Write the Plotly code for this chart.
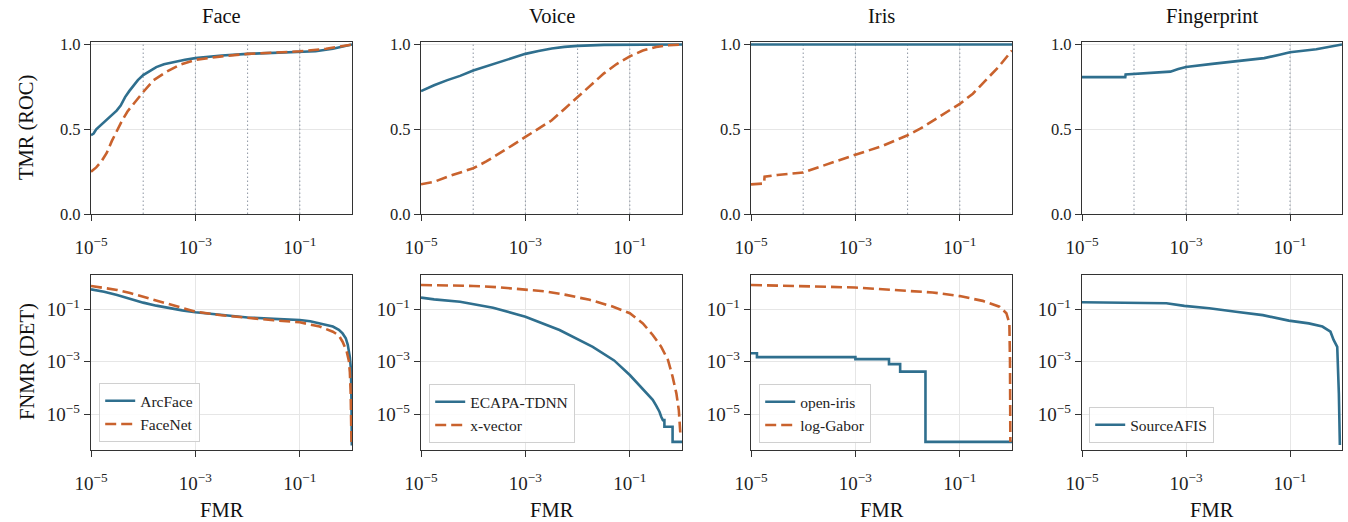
import plotly.graph_objects as go
from plotly.subplots import make_subplots

# ---------------- data ----------------
modalities = ["Face", "Voice", "Iris", "Fingerprint"]

# ROC curves (FMR -> TMR)
face_arc_roc_fmr = [1e-5, 1.12e-5, 1.26e-5, 1.48e-5, 1.78e-5, 2.0e-5, 2.5e-5, 3.1e-5, 3.7e-5, 4.5e-5,
                    5.4e-5, 6.5e-5, 7.9e-5, 1e-4, 1.35e-4, 1.78e-4, 2.5e-4, 3.7e-4, 6.3e-4, 1e-3,
                    3.2e-3, 1e-2, 3.2e-2, 0.1, 0.2, 0.43, 0.71, 1.0]
face_arc_roc_tmr = [0.465, 0.475, 0.50, 0.52, 0.545, 0.56, 0.585, 0.61, 0.64, 0.69,
                    0.725, 0.76, 0.79, 0.82, 0.847, 0.867, 0.884, 0.896, 0.91, 0.92,
                    0.935, 0.945, 0.95, 0.955, 0.96, 0.975, 0.988, 1.0]
face_fn_roc_fmr = [1e-5, 1.26e-5, 1.58e-5, 2.0e-5, 2.5e-5, 3.2e-5, 4.0e-5, 5.0e-5, 7.1e-5, 1e-4,
                   1.58e-4, 2.8e-4, 5e-4, 1e-3, 3.2e-3, 1e-2, 3.2e-2, 0.1, 0.32, 0.63, 1.0]
face_fn_roc_tmr = [0.25, 0.275, 0.31, 0.36, 0.43, 0.50, 0.555, 0.605, 0.665, 0.72,
                   0.79, 0.84, 0.88, 0.91, 0.93, 0.945, 0.952, 0.96, 0.975, 0.99, 1.0]

voice_ecapa_roc_fmr = [1e-5, 1.78e-5, 3.2e-5, 5.6e-5, 1e-4, 1.78e-4, 3.2e-4, 5.6e-4, 1e-3, 1.78e-3,
                       3.2e-3, 5.6e-3, 1e-2, 3.2e-2, 0.1, 1.0]
voice_ecapa_roc_tmr = [0.725, 0.76, 0.79, 0.815, 0.847, 0.872, 0.896, 0.92, 0.945, 0.962,
                       0.977, 0.986, 0.992, 0.998, 1.0, 1.0]
voice_xvec_roc_fmr = [1e-5, 1.78e-5, 3.2e-5, 5.6e-5, 1e-4, 1.78e-4, 3.2e-4, 5.6e-4, 1e-3, 1.78e-3,
                      3.2e-3, 5.6e-3, 1e-2, 1.78e-2, 3.2e-2, 5.6e-2, 0.1, 0.178, 0.32, 0.56, 1.0]
voice_xvec_roc_tmr = [0.175, 0.19, 0.22, 0.245, 0.27, 0.31, 0.357, 0.405, 0.455, 0.505,
                      0.553, 0.62, 0.69, 0.765, 0.83, 0.885, 0.93, 0.965, 0.985, 0.996, 1.0]

iris_open_roc_fmr = [1e-5, 1.0]
iris_open_roc_tmr = [1.0, 1.0]
iris_gabor_roc_fmr = [1e-5, 1.78e-5, 1.82e-5, 3.2e-5, 1e-4, 3.2e-4, 1e-3, 3.2e-3, 1e-2, 1.78e-2,
                      3.2e-2, 5.6e-2, 0.1, 0.178, 0.32, 0.56, 1.0]
iris_gabor_roc_tmr = [0.175, 0.18, 0.22, 0.23, 0.245, 0.30, 0.35, 0.40, 0.465, 0.505,
                      0.553, 0.60, 0.65, 0.71, 0.79, 0.87, 0.965]

finger_roc_fmr = [1e-5, 6.8e-5, 6.9e-5, 1e-4, 3.2e-4, 5e-4, 7.1e-4, 1e-3, 3.2e-3, 1e-2,
                  3.2e-2, 6.3e-2, 0.1, 0.32, 0.56, 1.0]
finger_roc_tmr = [0.808, 0.808, 0.824, 0.827, 0.835, 0.84, 0.855, 0.867, 0.886, 0.902,
                  0.92, 0.94, 0.955, 0.972, 0.985, 1.0]

# DET curves (FMR -> FNMR)
face_arc_det_fmr = [1e-5, 1.78e-5, 3.16e-5, 5.6e-5, 1e-4, 1.78e-4, 3.16e-4, 5.6e-4, 1e-3, 3.16e-3,
                    1e-2, 3.16e-2, 0.1, 0.158, 0.24, 0.316, 0.43, 0.56, 0.66, 0.76,
                    0.83, 0.91, 0.955, 0.977, 0.991]
face_arc_det_fnmr = [0.58, 0.47, 0.355, 0.25, 0.18, 0.138, 0.11, 0.091, 0.077, 0.06,
                     0.049, 0.043, 0.039, 0.035, 0.029, 0.026, 0.022, 0.0166, 0.012, 0.0079,
                     0.0044, 0.0015, 5e-4, 3.2e-5, 6.3e-7]
face_fn_det_fmr = [1e-5, 1.78e-5, 3.16e-5, 5.6e-5, 1e-4, 1.78e-4, 3.16e-4, 5.6e-4, 1e-3, 3.16e-3,
                   1e-2, 3.16e-2, 0.1, 0.24, 0.43, 0.56, 0.66, 0.79, 0.87, 0.91,
                   0.944, 0.966, 0.977]
face_fn_det_fnmr = [0.78, 0.66, 0.55, 0.42, 0.30, 0.21, 0.148, 0.107, 0.081, 0.059,
                    0.046, 0.038, 0.032, 0.022, 0.014, 0.01, 0.0058, 0.0025, 0.0011, 4e-4,
                    6.3e-5, 6.3e-6, 8.7e-7]

voice_ecapa_det_fmr = [1e-5, 1.78e-5, 5.6e-5, 2.4e-4, 1e-3, 4.5e-3, 1.95e-2, 5e-2, 0.1, 0.13,
                       0.178, 0.22, 0.275, 0.32, 0.37, 0.40, 0.43, 0.46, 0.46, 0.66,
                       0.66, 1.0]
voice_ecapa_det_fnmr = [0.28, 0.24, 0.195, 0.115, 0.052, 0.0162, 0.0037, 0.00112, 3.1e-4, 1.78e-4,
                        9.5e-5, 5.6e-5, 3.5e-5, 2.1e-5, 1.23e-5, 7.9e-6, 5.9e-6, 5.9e-6, 3.3e-6, 3.3e-6,
                        8.7e-7, 8.7e-7]
voice_xvec_det_fmr = [1e-5, 1e-4, 3.2e-4, 9.8e-4, 2.5e-3, 6e-3, 1.7e-2, 4.8e-2, 0.1, 0.178,
                      0.275, 0.4, 0.54, 0.66, 0.78, 0.87, 0.91, 0.93]
voice_xvec_det_fnmr = [0.85, 0.78, 0.69, 0.575, 0.48, 0.355, 0.23, 0.126, 0.071, 0.029,
                       0.0105, 0.0037, 0.00115, 2.7e-4, 6.2e-5, 1.4e-5, 3.3e-6, 1.8e-6]

iris_open_det_fmr = [1e-5, 1.3e-5, 1.3e-5, 1e-3, 1e-3, 4.4e-3, 4.4e-3, 7.2e-3, 7.2e-3, 2.2e-2, 2.2e-2, 1.0]
iris_open_det_fnmr = [0.0021, 0.0021, 0.0015, 0.0015, 0.00126, 0.00126, 8.1e-4, 8.1e-4, 4.2e-4, 4.2e-4,
                      8.7e-7, 8.7e-7]
iris_gabor_det_fmr = [1e-5, 1e-4, 9.8e-4, 9.3e-3, 3e-2, 0.1, 0.275, 0.575, 0.78, 0.89, 0.915, 0.93]
iris_gabor_det_fnmr = [0.85, 0.78, 0.68, 0.51, 0.44, 0.32, 0.21, 0.126, 0.071, 0.03, 0.00115, 8.7e-7]

finger_det_fmr = [1e-5, 6.8e-5, 4.2e-4, 9.3e-4, 2.8e-3, 9.1e-3, 3e-2, 9.5e-2, 0.23, 0.42,
                  0.6, 0.69, 0.81, 0.87, 0.91]
finger_det_fnmr = [0.186, 0.18, 0.17, 0.135, 0.11, 0.081, 0.06, 0.037, 0.029, 0.022,
                   0.014, 0.0068, 0.0037, 6.2e-5, 6.6e-7]

# reference lines drawn on the ROC panels
roc_ref_fmr = [1e-4, 1e-3, 1e-2, 1e-1]

x_tick_vals = [1e-5, 1e-3, 1e-1]
x_tick_text = ["10<sup>−5</sup>", "10<sup>−3</sup>", "10<sup>−1</sup>"]
roc_tick_vals = [0.0, 0.5, 1.0]
roc_tick_text = ["0.0", "0.5", "1.0"]
det_tick_vals = [1e-1, 1e-3, 1e-5]
det_tick_text = ["10<sup>−1</sup>", "10<sup>−3</sup>", "10<sup>−5</sup>"]

# ---------------- styling ----------------
BLUE = "#2f6f8e"
ORANGE = "#c9622d"
DASH = "11px,5px"
FONT = "Liberation Serif"
W, H = 1348, 522
col_px = [(91, 352), (421, 682), (751, 1012), (1082, 1342)]
row_px = [(42, 214), (275, 450)]
legend_pos = [(99, 442), (429, 443), (759, 443), (1089, 443)]

fig = make_subplots(rows=2, cols=4)

panels = [
    # (roc series, det series); each series: (name, fmr, value, colour, dash)
    ([("ArcFace", face_arc_roc_fmr, face_arc_roc_tmr, BLUE, "solid"),
      ("FaceNet", face_fn_roc_fmr, face_fn_roc_tmr, ORANGE, DASH)],
     [("ArcFace", face_arc_det_fmr, face_arc_det_fnmr, BLUE, "solid"),
      ("FaceNet", face_fn_det_fmr, face_fn_det_fnmr, ORANGE, DASH)]),
    ([("ECAPA-TDNN", voice_ecapa_roc_fmr, voice_ecapa_roc_tmr, BLUE, "solid"),
      ("x-vector", voice_xvec_roc_fmr, voice_xvec_roc_tmr, ORANGE, DASH)],
     [("ECAPA-TDNN", voice_ecapa_det_fmr, voice_ecapa_det_fnmr, BLUE, "solid"),
      ("x-vector", voice_xvec_det_fmr, voice_xvec_det_fnmr, ORANGE, DASH)]),
    ([("open-iris", iris_open_roc_fmr, iris_open_roc_tmr, BLUE, "solid"),
      ("log-Gabor", iris_gabor_roc_fmr, iris_gabor_roc_tmr, ORANGE, DASH)],
     [("open-iris", iris_open_det_fmr, iris_open_det_fnmr, BLUE, "solid"),
      ("log-Gabor", iris_gabor_det_fmr, iris_gabor_det_fnmr, ORANGE, DASH)]),
    ([("SourceAFIS", finger_roc_fmr, finger_roc_tmr, BLUE, "solid")],
     [("SourceAFIS", finger_det_fmr, finger_det_fnmr, BLUE, "solid")]),
]

ROC_TOP = 1.015

for c, (roc, det) in enumerate(panels):
    col = c + 1
    legend_name = "legend" if c == 0 else f"legend{c + 1}"
    # dotted reference lines on the ROC panel
    for v in roc_ref_fmr:
        fig.add_trace(go.Scatter(x=[v, v], y=[0, ROC_TOP], mode="lines",
                                 line=dict(color="#8d96a3", width=1, dash="1.5px,2.5px"),
                                 showlegend=False, hoverinfo="skip"), row=1, col=col)
    for name, xs, ys, colour, dash in roc:
        fig.add_trace(go.Scatter(x=xs, y=ys, mode="lines", name=name,
                                 line=dict(color=colour, width=2.6, dash=dash),
                                 showlegend=False), row=1, col=col)
    for name, xs, ys, colour, dash in det:
        fig.add_trace(go.Scatter(x=xs, y=ys, mode="lines", name=name,
                                 line=dict(color=colour, width=2.6, dash=dash),
                                 legend=legend_name, showlegend=True), row=2, col=col)

    lx, ly = legend_pos[c]
    fig.update_layout({legend_name: dict(
        x=lx / W, y=1 - ly / H, xanchor="left", yanchor="bottom",
        bgcolor="rgba(255,255,255,0.85)", bordercolor="#d0d0d0", borderwidth=1.2,
        font=dict(family=FONT, size=15.5, color="#222"),
        itemwidth=30, tracegroupgap=0,
    )})

axis_common = dict(showline=True, mirror=True, linecolor="#333", linewidth=1.4,
                   ticks="outside", ticklen=6, tickwidth=1.4, tickcolor="#333",
                   showgrid=True, gridcolor="#e6e6e6", gridwidth=1, zeroline=False,
                   automargin=False)
lin_font = dict(family=FONT, size=16.5, color="#222")
pow_font = dict(family=FONT, size=19, color="#222")

for r in range(2):
    for c in range(4):
        idx = r * 4 + c + 1
        xa = "xaxis" if idx == 1 else f"xaxis{idx}"
        ya = "yaxis" if idx == 1 else f"yaxis{idx}"
        x0, x1 = col_px[c]
        top, bot = row_px[r]
        fig.layout[xa].update(domain=[x0 / W, x1 / W], type="log", range=[-5, 0],
                              tickvals=x_tick_vals, ticktext=x_tick_text,
                              tickfont=pow_font, ticklabelstandoff=10, **axis_common)
        if r == 0:
            fig.layout[ya].update(domain=[1 - bot / H, 1 - top / H], range=[0, ROC_TOP],
                                  tickvals=roc_tick_vals, ticktext=roc_tick_text,
                                  tickfont=lin_font, **axis_common)
        else:
            fig.layout[ya].update(domain=[1 - bot / H, 1 - top / H], type="log",
                                  range=[-6.37, 0.31],
                                  tickvals=det_tick_vals, ticktext=det_tick_text,
                                  tickfont=pow_font, **axis_common)

annotations = []
for c, title in enumerate(modalities):
    x0, x1 = col_px[c]
    xc = (x0 + x1) / 2 / W
    annotations.append(dict(text=title, x=xc, y=1 - 16 / H, xref="paper", yref="paper",
                            showarrow=False, xanchor="center", yanchor="middle",
                            font=dict(family=FONT, size=20.5, color="#111")))
    annotations.append(dict(text="FMR", x=xc, y=1 - 510 / H, xref="paper", yref="paper",
                            showarrow=False, xanchor="center", yanchor="middle",
                            font=dict(family=FONT, size=20.5, color="#111")))
annotations.append(dict(text="TMR (ROC)", x=27 / W, y=1 - 128 / H, xref="paper", yref="paper",
                        showarrow=False, textangle=-90, xanchor="center", yanchor="middle",
                        font=dict(family=FONT, size=20.5, color="#111")))
annotations.append(dict(text="FNMR (DET)", x=27 / W, y=1 - 362 / H, xref="paper", yref="paper",
                        showarrow=False, textangle=-90, xanchor="center", yanchor="middle",
                        font=dict(family=FONT, size=20.5, color="#111")))

fig.update_layout(width=W, height=H, margin=dict(l=0, r=0, t=0, b=0, autoexpand=False),
                  paper_bgcolor="white", plot_bgcolor="white",
                  annotations=annotations, font=dict(family=FONT))

fig.write_html("out.html")
